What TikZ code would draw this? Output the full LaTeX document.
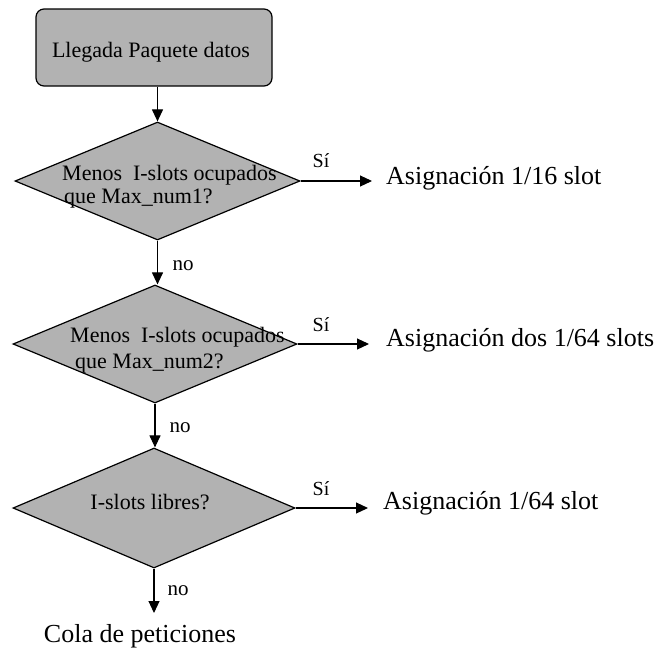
\documentclass[tikz,border=0pt]{standalone}
\usepackage{fontspec}
\setmainfont{Liberation Serif}
\usetikzlibrary{shapes.geometric,arrows.meta}
\tikzset{
  shade/.style={fill=black!30},
  startbox/.style={draw, line width=1.2pt, rounded corners=8pt, shade, minimum width=236pt, minimum height=77pt, inner sep=0pt},
  decision/.style={draw, line width=1.2pt, diamond, shade, inner sep=0pt},
  qtext/.style={font=\fontsize{22}{25}\selectfont, align=left, inner sep=0pt},
  outtext/.style={font=\fontsize{26}{30}\selectfont, inner sep=0pt},
  smalllab/.style={font=\fontsize{20}{22}\selectfont, inner sep=0pt},
  nolab/.style={font=\fontsize{21}{24}\selectfont, inner sep=0pt},
  flow/.style={line width=1.1pt, -{Triangle[length=12pt,width=11pt]}}
}
\begin{document}
\begin{tikzpicture}[x=1pt,y=-1pt]
\useasboundingbox (0,0) rectangle (655,653);
% start box
\node[startbox] (start) at (154,47.5) {};
\node[qtext] (starttxt) at (151,52) {Llegada Paquete datos};
% decisions
\node[decision, minimum width=285pt, minimum height=118pt] (d1) at (157.5,181) {};
\node[decision, minimum width=284pt, minimum height=118pt] (d2) at (155,344) {};
\node[decision, minimum width=282pt, minimum height=120pt] (d3) at (154,508) {};
\node[qtext, anchor=west] (t1) at (62,187) {Menos \ I-slots ocupados\\[-2pt]\hspace{2pt}que Max\_num1?};
\node[qtext, anchor=west] (t2) at (70,350) {Menos \ I-slots ocupados\\[1pt]\hspace{5pt}que Max\_num2?};
\node[qtext] (t3) at (150,502) {I-slots libres?};
% outputs
\node[outtext, anchor=base west] (o1) at (386,184) {Asignación 1/16 slot};
\node[outtext, anchor=base west] (o2) at (386,346) {Asignación dos 1/64 slots};
\node[outtext, anchor=base west] (o3) at (383,509) {Asignación 1/64 slot};
\node[outtext] (cola) at (140,636) {Cola de peticiones};
\coordinate (e1) at (372,181);
\coordinate (e2) at (369,344);
\coordinate (e3) at (368,508);
\coordinate (e4) at (154,613);
% connectors
\draw[flow] (start.south -| d1.north) -- (d1.north);
\draw[flow] (d1.south) -- (d2.north -| d1.south);
\draw[flow] (d2.south) -- (d3.north -| d2.south);
\draw[flow] (d3.south) -- (e4);
\draw[flow] (d1.east) -- (e1);
\draw[flow] (d2.east) -- (e2);
\draw[flow] (d3.east) -- (e3);
% labels
\node[smalllab, anchor=base] (s1) at (321,167) {Sí};
\node[smalllab, anchor=base] (s2) at (321,331) {Sí};
\node[smalllab, anchor=base] (s3) at (321,495) {Sí};
\node[nolab, anchor=base] (n1) at (183,270) {no};
\node[nolab, anchor=base] (n2) at (180,432) {no};
\node[nolab, anchor=base] (n3) at (178,595) {no};
\end{tikzpicture}
\end{document}
